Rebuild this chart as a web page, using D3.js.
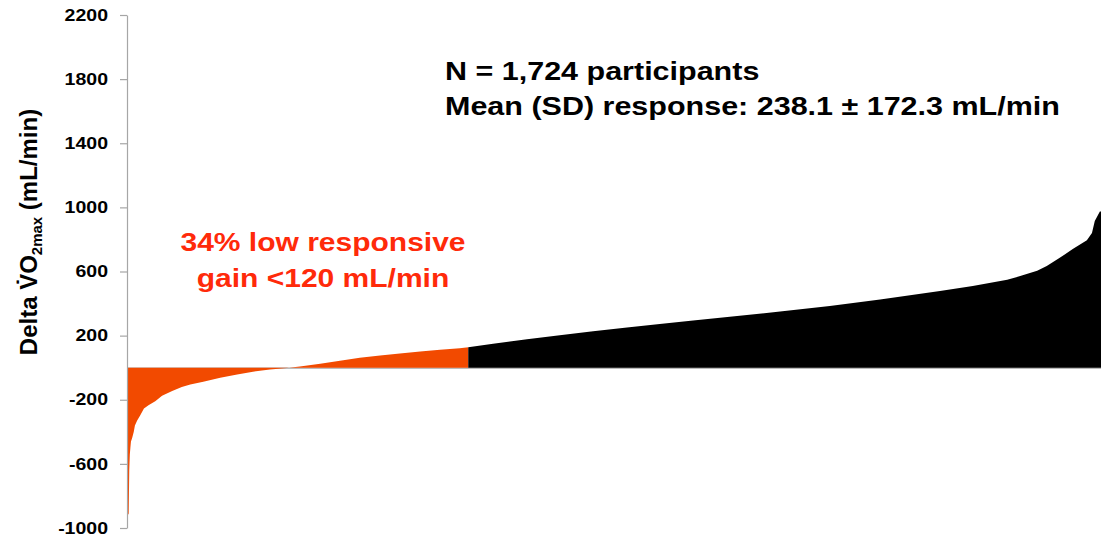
<!DOCTYPE html>
<html>
<head>
<meta charset="utf-8">
<script src="https://cdn.jsdelivr.net/npm/d3@7"></script>
<style>
  html, body { margin: 0; padding: 0; background: #fff; }
  svg { display: block; }
  text { font-family: "Liberation Sans", Arial, sans-serif; font-weight: bold; }
</style>
</head>
<body>
<svg id="chart" width="1101" height="546"></svg>
<script>
// ---- data ----
const totalParticipants = 1724;
const lowResponderCount = 604; // ~34-35% below the 120 mL/min gain
const participantRank = [0,3,4,5,6,7,9,12,14,18,23,30,38,50,62,80,97,112,135,165,195,223,253,283,306,342,377,412,448,483,519,554,589,604,648,708,766,825,885,943,1002,1067,1156,1244,1333,1439,1497,1558,1581,1611,1628,1651,1674,1699,1708,1713,1722];
const deltaVO2 = [-930,-910,-640,-540,-500,-460,-440,-400,-360,-330,-300,-255,-235,-210,-175,-145,-120,-105,-87,-62,-43,-25,-12,-2,8,25,43,62,76,89,101,112,122,128,150,178,203,227,250,272,294,318,350,385,425,478,510,548,572,605,635,685,740,795,840,915,975];
const yTicks = [-1000,-600,-200,200,600,1000,1400,1800,2200];
const statLines = ["N = 1,724 participants", "Mean (SD) response: 238.1 \u00B1 172.3 mL/min"];
const lowLines = ["34% low responsive", "gain <120 mL/min"];

const STRETCH = 1.22;
const svg = d3.select("#chart");
const x = d3.scaleLinear().domain([0, totalParticipants]).range([127, 1101]);
const y = d3.scaleLinear().domain([-1000, 2200]).range([528, 15]);

const pts = participantRank.map((r, i) => ({ r, v: deltaVO2[i] }));
pts.push({ r: totalParticipants, v: deltaVO2[deltaVO2.length - 1] });

// x axis baseline
svg.append("line")
  .attr("x1", x(0)).attr("x2", x(totalParticipants))
  .attr("y1", y(0) + 0.5).attr("y2", y(0) + 0.5)
  .attr("stroke", "#a6a6a6").attr("stroke-width", 1.2);

const area = d3.area().x(d => x(d.r)).y0(y(0)).y1(d => y(d.v)).curve(d3.curveLinear);

const lowPts = pts.filter(d => d.r <= lowResponderCount);
const highPts = pts.filter(d => d.r >= lowResponderCount);
svg.append("path").datum(lowPts).attr("d", area).attr("fill", "#F24A00");
svg.append("path").datum(highPts).attr("d", area).attr("fill", "#000");

// y axis
const yAxis = d3.axisLeft(y).tickValues(yTicks).tickFormat(d => String(d))
  .tickSize(7).tickSizeOuter(0).tickPadding(12);
const gy = svg.append("g").attr("transform", `translate(${x(0)},0)`).call(yAxis);
gy.select(".domain").attr("stroke", "#a6a6a6").attr("stroke-width", 1.2);
gy.selectAll(".tick line").attr("stroke", "#a6a6a6").attr("stroke-width", 1.2);
gy.selectAll(".tick text")
  .attr("font-size", 16).attr("font-weight", "bold").attr("fill", "#000")
  .attr("font-family", "Liberation Sans, Arial, sans-serif")
  .attr("x", -19 / STRETCH)
  .attr("transform", `scale(${STRETCH},1)`);

// y axis label (rotated)
const yl = svg.append("text")
  .attr("transform", `translate(37,232) rotate(-90)`)
  .attr("text-anchor", "middle").attr("font-size", 24).attr("fill", "#000");
yl.append("tspan").text("Delta V\u0307O");
yl.append("tspan").attr("font-size", 15).attr("dy", 5).text("2max");
yl.append("tspan").attr("dy", -5).text(" (mL/min)");

// stats annotation
statLines.forEach((t, i) => {
  svg.append("text")
    .attr("transform", `translate(445,${80 + i * 35}) scale(${STRETCH},1)`)
    .attr("font-size", 25).attr("fill", "#000").text(t);
});

// low responder annotation
lowLines.forEach((t, i) => {
  svg.append("text")
    .attr("transform", `translate(323,${251 + i * 36}) scale(1.2,1)`)
    .attr("text-anchor", "middle")
    .attr("font-size", 25).attr("fill", "#FF2A0A").text(t);
});
</script>
</body>
</html>
